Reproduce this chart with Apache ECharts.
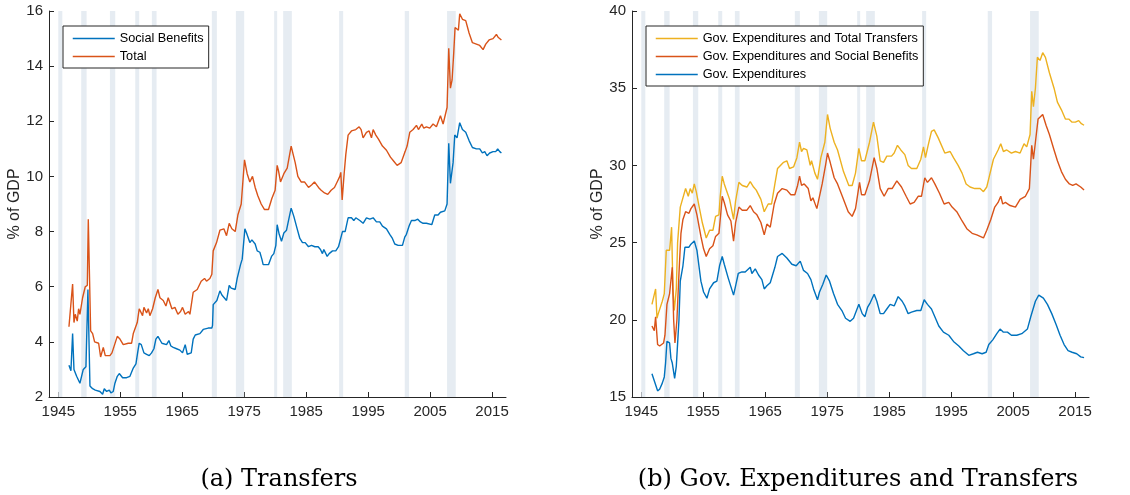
<!DOCTYPE html>
<html>
<head>
<meta charset="utf-8">
<script src="https://cdn.jsdelivr.net/npm/echarts@6/dist/echarts.min.js"></script>
<style>
  html, body { margin: 0; padding: 0; background: #fff; }
  #chart { width: 1130px; height: 495px; }
</style>
</head>
<body>
<div id="chart"></div>
<script>
// recession bands, [start, end] in decimal years
var recessions = [
    [1945.0, 1945.65], [1948.7, 1949.57], [1953.33, 1954.19], [1957.42, 1958.06],
    [1960.1, 1960.86], [1969.78, 1970.59], [1973.66, 1975.0], [1979.84, 1980.32],
    [1981.29, 1982.69], [1990.32, 1990.97], [2000.91, 2001.61], [2007.74, 2009.14]
];

var yearTicks = [1945, 1955, 1965, 1975, 1985, 1995, 2005, 2015];

// (a) Transfers, % of GDP
var socialBenefits = [
    [1946.72, 3.15], [1947.04, 2.95], [1947.31, 4.3], [1947.53, 3.0], [1947.96, 2.75], [1948.49, 2.5],
    [1948.66, 2.45], [1949.03, 3.0], [1949.46, 3.1], [1949.68, 3.15], [1949.78, 5.9], [1950.11, 2.4],
    [1950.54, 2.3], [1950.97, 2.25], [1951.72, 2.2], [1952.15, 2.1], [1952.42, 2.3], [1952.8, 2.2],
    [1953.23, 2.25], [1953.49, 2.15], [1953.87, 2.2], [1954.14, 2.5], [1954.52, 2.75], [1954.84, 2.85],
    [1955.38, 2.7], [1956.02, 2.7], [1956.56, 2.75], [1956.83, 2.75], [1957.1, 3.05], [1957.53, 3.2],
    [1957.8, 3.6], [1958.06, 3.95], [1958.39, 3.9], [1958.82, 3.6], [1959.25, 3.55], [1959.68, 3.5],
    [1960.05, 3.6], [1960.43, 3.75], [1960.75, 4.1], [1961.08, 4.2], [1961.29, 4.15], [1961.72, 3.95],
    [1962.04, 3.9], [1962.47, 3.9], [1962.85, 4.05], [1963.17, 3.85], [1963.55, 3.8], [1964.09, 3.75],
    [1964.62, 3.7], [1965.05, 3.6], [1965.27, 3.6], [1965.48, 3.9], [1965.81, 3.55], [1966.13, 3.5],
    [1966.45, 3.6], [1966.77, 4.1], [1967.1, 4.25], [1967.85, 4.3], [1968.39, 4.45], [1969.19, 4.5],
    [1969.78, 4.5], [1969.89, 4.6], [1970.0, 5.35], [1970.27, 5.4], [1970.59, 5.5], [1971.08, 5.85],
    [1971.4, 5.7], [1971.72, 5.75], [1972.15, 5.5], [1972.37, 5.55], [1972.58, 6.05], [1972.9, 5.95],
    [1973.55, 5.9], [1973.87, 6.3], [1974.41, 6.8], [1974.68, 7.0], [1975.11, 8.1], [1975.38, 7.95],
    [1975.91, 7.6], [1976.24, 7.7], [1976.77, 7.55], [1977.1, 7.3], [1977.53, 7.25], [1977.85, 7.0],
    [1978.06, 6.8], [1978.92, 6.8], [1979.41, 7.1], [1979.78, 7.2], [1980.11, 7.5], [1980.32, 8.25],
    [1980.65, 7.9], [1981.02, 7.65], [1981.4, 7.95], [1981.83, 8.05], [1982.15, 8.4], [1982.58, 8.85],
    [1983.01, 8.55], [1983.55, 8.1], [1983.98, 7.75], [1984.41, 7.6], [1984.84, 7.6], [1985.38, 7.45],
    [1985.86, 7.5], [1986.4, 7.45], [1986.94, 7.45], [1987.31, 7.35], [1987.63, 7.2], [1987.85, 7.35],
    [1988.39, 7.1], [1988.71, 7.2], [1989.25, 7.3], [1989.78, 7.3], [1990.22, 7.45], [1990.54, 7.5],
    [1990.86, 8.0], [1991.29, 8.0], [1991.77, 8.5], [1992.31, 8.5], [1992.69, 8.4], [1993.01, 8.5],
    [1993.66, 8.4], [1994.19, 8.3], [1994.73, 8.5], [1995.27, 8.45], [1995.81, 8.5], [1996.34, 8.35],
    [1996.88, 8.35], [1997.31, 8.2], [1997.96, 8.1], [1998.49, 7.9], [1998.92, 7.75], [1999.3, 7.55],
    [1999.84, 7.5], [2000.54, 7.5], [2000.91, 7.8], [2001.18, 7.9], [2001.61, 8.2], [2001.99, 8.4],
    [2002.53, 8.4], [2003.01, 8.45], [2003.44, 8.35], [2003.87, 8.3], [2004.41, 8.3], [2005.27, 8.25],
    [2005.75, 8.6], [2006.29, 8.6], [2006.67, 8.7], [2007.37, 8.75], [2007.74, 9.0], [2008.01, 11.2],
    [2008.28, 9.75], [2008.55, 9.8], [2008.71, 10.5], [2008.98, 11.5], [2009.35, 11.4], [2009.78, 11.95],
    [2010.22, 11.7], [2010.75, 11.6], [2011.29, 11.3], [2011.83, 11.05], [2012.47, 11.0], [2013.01, 11.0],
    [2013.44, 10.85], [2013.82, 10.9], [2014.19, 10.75], [2014.62, 10.85], [2015.16, 10.9], [2015.59, 10.9],
    [2015.91, 11.0], [2016.24, 10.9], [2016.51, 10.85]
];

var totalTransfers = [
    [1946.72, 4.55], [1946.99, 4.5], [1947.31, 6.1], [1947.53, 4.7], [1947.74, 5.0], [1948.06, 4.75],
    [1948.28, 5.2], [1948.49, 5.0], [1948.92, 5.6], [1949.35, 6.0], [1949.68, 6.05], [1949.84, 8.45],
    [1950.22, 4.4], [1950.54, 4.3], [1950.86, 4.0], [1951.51, 3.95], [1951.83, 3.45], [1952.26, 3.8],
    [1952.58, 3.5], [1953.33, 3.5], [1953.66, 3.6], [1954.09, 3.9], [1954.52, 4.2], [1954.95, 4.1],
    [1955.48, 3.9], [1956.29, 3.95], [1956.83, 3.95], [1957.1, 4.3], [1957.42, 4.3], [1957.74, 4.7],
    [1958.06, 5.2], [1958.28, 5.15], [1958.6, 4.95], [1958.82, 5.25], [1959.25, 5.05], [1959.52, 5.2],
    [1959.78, 4.95], [1960.22, 5.2], [1960.65, 5.6], [1961.08, 5.9], [1961.4, 5.6], [1961.94, 5.5],
    [1962.37, 5.3], [1962.74, 5.6], [1963.33, 5.2], [1963.82, 5.25], [1964.3, 5.0], [1964.73, 5.1],
    [1965.05, 5.25], [1965.48, 5.0], [1966.02, 5.1], [1966.24, 5.0], [1966.77, 5.8], [1967.42, 5.9],
    [1968.06, 6.2], [1968.6, 6.3], [1968.92, 6.2], [1969.46, 6.3], [1969.78, 6.45], [1970.0, 7.3],
    [1970.54, 7.6], [1971.08, 8.05], [1971.29, 8.0], [1971.72, 8.1], [1972.15, 7.85], [1972.58, 8.3],
    [1973.01, 8.1], [1973.55, 8.0], [1973.98, 8.6], [1974.52, 9.0], [1975.05, 10.6], [1975.48, 10.1],
    [1975.91, 9.8], [1976.34, 10.0], [1976.77, 9.6], [1977.2, 9.3], [1977.74, 9.0], [1978.28, 8.8],
    [1978.92, 8.8], [1979.46, 9.2], [1979.99, 9.5], [1980.32, 10.4], [1980.54, 10.2], [1980.86, 9.8],
    [1981.4, 10.1], [1981.94, 10.3], [1982.26, 10.7], [1982.58, 11.1], [1982.9, 10.8], [1983.23, 10.5],
    [1983.66, 10.0], [1984.19, 9.8], [1984.73, 9.8], [1985.38, 9.6], [1985.91, 9.7], [1986.34, 9.8],
    [1986.99, 9.6], [1987.42, 9.5], [1987.96, 9.4], [1988.49, 9.35], [1989.03, 9.5], [1989.57, 9.6],
    [1990.0, 9.8], [1990.43, 10.0], [1990.59, 10.15], [1990.81, 9.15], [1991.13, 10.1], [1991.4, 10.8],
    [1991.77, 11.5], [1992.31, 11.65], [1993.01, 11.7], [1993.55, 11.8], [1993.87, 11.7], [1994.19, 11.4],
    [1994.73, 11.6], [1995.16, 11.65], [1995.54, 11.4], [1995.81, 11.7], [1996.24, 11.5], [1996.67, 11.35],
    [1997.31, 11.1], [1997.96, 10.95], [1998.6, 10.7], [1999.14, 10.55], [1999.68, 10.4], [2000.0, 10.4],
    [2000.32, 10.5], [2000.97, 10.9], [2001.29, 11.1], [2001.72, 11.6], [2002.26, 11.7], [2002.8, 11.85],
    [2003.12, 11.7], [2003.66, 11.9], [2003.98, 11.75], [2004.41, 11.8], [2004.95, 11.75], [2005.48, 11.9],
    [2006.02, 11.8], [2006.67, 12.2], [2007.1, 11.9], [2007.42, 12.2], [2007.74, 12.5], [2008.01, 14.65],
    [2008.28, 13.2], [2008.55, 13.5], [2008.82, 14.5], [2009.03, 15.4], [2009.35, 15.4], [2009.57, 15.3],
    [2009.78, 15.9], [2010.22, 15.7], [2010.75, 15.65], [2011.29, 15.2], [2011.83, 14.85], [2012.47, 14.8],
    [2013.01, 14.75], [2013.55, 14.6], [2013.98, 14.8], [2014.52, 14.95], [2015.16, 15.0], [2015.7, 15.15],
    [2015.97, 15.05], [2016.51, 14.95]
];

// (b) Gov. expenditures and transfers, % of GDP
var govExpTotal = [
    [1946.72, 21.0], [1946.99, 20.9], [1947.31, 22.0], [1947.53, 20.1], [1947.74, 20.4], [1948.06, 20.5],
    [1948.39, 21.2], [1948.71, 21.7], [1949.03, 24.5], [1949.57, 24.5], [1949.89, 26.0], [1950.11, 22.0],
    [1950.32, 20.6], [1950.65, 22.0], [1950.86, 25.0], [1951.29, 27.3], [1951.51, 27.2], [1952.15, 28.5],
    [1952.58, 28.0], [1952.9, 28.5], [1953.23, 28.2], [1953.55, 28.8], [1953.87, 28.3], [1954.3, 27.4],
    [1954.84, 26.3], [1955.48, 25.3], [1956.02, 25.8], [1956.56, 25.8], [1956.99, 26.7], [1957.53, 26.8],
    [1957.74, 28.0], [1958.06, 29.3], [1958.39, 28.8], [1958.82, 28.3], [1959.25, 27.8], [1959.57, 27.7],
    [1959.89, 26.5], [1960.22, 27.7], [1960.75, 28.9], [1961.29, 28.7], [1962.04, 28.6], [1962.58, 28.95],
    [1963.12, 28.6], [1963.55, 28.4], [1964.3, 27.8], [1964.84, 27.0], [1965.48, 27.5], [1966.02, 27.5],
    [1966.56, 28.8], [1966.99, 29.8], [1967.96, 30.2], [1968.49, 30.3], [1968.92, 29.8], [1969.57, 29.9],
    [1970.11, 30.5], [1970.54, 31.5], [1970.86, 30.9], [1971.18, 31.1], [1971.72, 31.0], [1972.26, 30.0],
    [1972.47, 30.3], [1973.01, 29.5], [1973.44, 29.1], [1973.98, 30.5], [1974.62, 31.5], [1975.05, 33.3],
    [1975.48, 32.4], [1976.13, 31.5], [1976.67, 31.0], [1977.63, 29.6], [1978.49, 28.7], [1979.03, 28.7],
    [1979.57, 29.5], [1980.11, 31.1], [1980.54, 30.3], [1981.08, 30.3], [1981.83, 31.5], [1982.47, 32.8],
    [1983.01, 31.9], [1983.55, 30.3], [1984.09, 30.2], [1984.62, 30.6], [1985.38, 30.6], [1985.81, 30.8],
    [1986.34, 31.3], [1986.88, 31.0], [1987.53, 30.7], [1988.06, 30.0], [1988.6, 29.8], [1989.46, 29.8],
    [1990.11, 30.4], [1990.54, 31.2], [1990.86, 30.5], [1991.29, 31.3], [1991.83, 32.2], [1992.26, 32.3],
    [1992.9, 31.8], [1993.98, 30.8], [1994.84, 30.9], [1995.38, 30.5], [1996.13, 30.0], [1996.77, 29.5],
    [1997.42, 28.8], [1998.06, 28.6], [1998.82, 28.5], [1999.68, 28.5], [2000.22, 28.3], [2000.75, 28.6],
    [2001.29, 29.5], [2001.83, 30.4], [2002.58, 31.0], [2003.01, 31.4], [2003.44, 30.9], [2003.98, 31.0],
    [2004.73, 30.8], [2005.38, 30.9], [2006.13, 30.8], [2006.77, 31.4], [2007.2, 31.2], [2007.74, 32.0],
    [2008.01, 34.8], [2008.28, 33.8], [2008.6, 35.0], [2008.92, 37.0], [2009.35, 36.8], [2009.78, 37.3],
    [2010.22, 37.0], [2010.86, 36.0], [2011.61, 35.0], [2012.15, 34.1], [2012.8, 33.6], [2013.44, 33.0],
    [2013.98, 33.0], [2014.52, 32.8], [2015.05, 32.8], [2015.59, 32.9], [2016.02, 32.7], [2016.45, 32.6]
];

var govExpSocial = [
    [1946.72, 19.6], [1947.1, 19.3], [1947.31, 20.2], [1947.63, 18.4], [1947.96, 18.3], [1948.6, 18.5],
    [1948.82, 19.0], [1949.14, 21.0], [1949.57, 21.7], [1949.78, 21.8], [1950.0, 23.4], [1950.22, 20.0],
    [1950.43, 18.5], [1950.75, 20.0], [1951.08, 23.0], [1951.4, 25.6], [1951.72, 26.5], [1952.15, 27.0],
    [1952.69, 26.9], [1953.01, 27.2], [1953.55, 27.5], [1953.98, 26.8], [1954.62, 25.4], [1955.05, 24.6],
    [1955.48, 24.1], [1956.02, 24.6], [1956.56, 24.8], [1956.99, 25.4], [1957.53, 25.6], [1957.85, 27.0],
    [1958.06, 28.0], [1958.39, 27.6], [1958.92, 26.8], [1959.46, 26.4], [1959.89, 25.1], [1960.22, 26.3],
    [1960.75, 27.3], [1961.29, 27.1], [1962.04, 27.1], [1962.58, 27.4], [1963.12, 27.0], [1963.66, 26.8],
    [1964.3, 26.3], [1964.84, 25.5], [1965.27, 26.2], [1965.81, 26.0], [1966.45, 27.5], [1966.99, 28.2],
    [1967.74, 28.5], [1968.49, 28.4], [1969.14, 28.1], [1969.78, 28.1], [1970.22, 28.7], [1970.54, 29.3],
    [1970.86, 28.7], [1971.29, 28.8], [1971.94, 28.5], [1972.37, 27.7], [1972.69, 27.9], [1973.33, 27.2],
    [1973.55, 27.2], [1974.19, 28.8], [1974.73, 30.0], [1975.05, 30.8], [1975.48, 30.2], [1976.13, 29.2],
    [1976.67, 28.8], [1977.53, 27.9], [1978.39, 27.0], [1979.03, 26.7], [1979.57, 27.2], [1980.22, 28.9],
    [1980.54, 28.1], [1981.08, 28.1], [1981.83, 29.0], [1982.58, 30.5], [1983.01, 29.8], [1983.55, 28.5],
    [1984.19, 28.0], [1984.84, 28.5], [1985.48, 28.5], [1986.24, 29.0], [1986.99, 28.6], [1987.74, 28.0],
    [1988.39, 27.5], [1989.03, 27.6], [1989.68, 28.0], [1990.22, 28.0], [1990.75, 29.2], [1991.18, 28.9],
    [1991.83, 29.2], [1992.37, 28.8], [1993.12, 28.2], [1993.87, 27.5], [1994.62, 27.6], [1995.16, 27.3],
    [1995.91, 27.0], [1996.77, 26.4], [1997.53, 25.9], [1998.39, 25.6], [1999.14, 25.5], [2000.22, 25.3],
    [2000.75, 25.8], [2001.4, 26.5], [2002.04, 27.3], [2002.58, 27.6], [2003.01, 28.0], [2003.33, 27.5],
    [2003.76, 27.6], [2004.52, 27.4], [2005.38, 27.3], [2006.13, 27.8], [2006.99, 28.0], [2007.63, 28.5],
    [2008.01, 31.3], [2008.28, 30.4], [2008.6, 31.5], [2009.03, 33.0], [2009.35, 32.9], [2009.78, 33.3],
    [2010.32, 32.6], [2010.86, 32.0], [2011.61, 31.0], [2012.15, 30.3], [2012.8, 29.6], [2013.44, 29.1],
    [2014.09, 28.8], [2014.62, 28.7], [2015.16, 28.8], [2015.91, 28.6], [2016.45, 28.4]
];

var govExp = [
    [1946.72, 16.5], [1946.99, 16.4], [1947.63, 15.4], [1947.96, 15.5], [1948.39, 15.9], [1948.71, 16.3],
    [1948.92, 17.2], [1949.14, 18.6], [1949.57, 18.5], [1949.78, 17.5], [1950.0, 17.2], [1950.38, 16.2],
    [1950.65, 17.0], [1951.08, 20.0], [1951.29, 22.5], [1951.72, 23.5], [1952.04, 24.7], [1952.69, 24.7],
    [1953.01, 24.9], [1953.55, 25.1], [1953.98, 24.5], [1954.62, 22.5], [1955.05, 21.8], [1955.59, 21.4],
    [1956.02, 22.0], [1956.67, 22.4], [1957.2, 22.5], [1957.63, 23.5], [1958.06, 24.1], [1958.39, 23.6],
    [1959.03, 22.7], [1959.35, 22.8], [1959.89, 21.6], [1960.22, 22.2], [1960.65, 23.0], [1961.24, 23.1],
    [1961.77, 23.1], [1962.58, 23.4], [1962.85, 23.0], [1963.39, 23.3], [1963.92, 22.9], [1964.46, 22.6],
    [1964.84, 22.0], [1965.27, 22.2], [1965.81, 22.4], [1966.56, 23.4], [1966.99, 24.1], [1967.74, 24.3],
    [1968.49, 24.0], [1969.3, 23.6], [1970.0, 23.5], [1970.65, 23.8], [1971.18, 23.2], [1971.83, 23.0],
    [1972.37, 22.6], [1972.8, 22.0], [1973.44, 21.3], [1973.76, 21.8], [1974.3, 22.3], [1974.84, 22.9],
    [1975.38, 22.5], [1976.02, 21.7], [1976.67, 21.0], [1977.37, 20.6], [1977.96, 20.1], [1978.71, 19.9],
    [1979.25, 20.1], [1980.11, 21.0], [1980.65, 20.4], [1981.08, 20.2], [1981.51, 20.8], [1981.94, 21.1],
    [1982.58, 21.65], [1983.01, 21.2], [1983.55, 20.4], [1984.09, 20.4], [1984.62, 20.7], [1985.16, 21.0],
    [1985.81, 20.9], [1986.45, 21.5], [1987.1, 21.2], [1987.53, 20.9], [1988.06, 20.4], [1988.6, 20.5],
    [1989.46, 20.6], [1990.11, 20.6], [1990.65, 21.3], [1991.18, 21.0], [1991.83, 20.7], [1992.37, 20.2],
    [1993.01, 19.6], [1993.76, 19.2], [1994.62, 19.0], [1995.38, 18.6], [1996.24, 18.3], [1996.99, 18.0],
    [1997.85, 17.7], [1998.6, 17.8], [1999.25, 17.9], [2000.0, 17.8], [2000.65, 17.9], [2001.08, 18.4],
    [2001.72, 18.7], [2002.37, 19.1], [2002.9, 19.4], [2003.44, 19.2], [2004.09, 19.2], [2004.73, 19.0],
    [2005.59, 19.0], [2006.4, 19.1], [2007.31, 19.4], [2007.85, 20.2], [2008.6, 21.2], [2009.14, 21.6],
    [2009.89, 21.4], [2010.54, 21.0], [2011.24, 20.4], [2011.94, 19.7], [2012.58, 19.0], [2013.23, 18.4],
    [2013.87, 18.0], [2014.52, 17.9], [2015.27, 17.8], [2015.91, 17.6], [2016.45, 17.55]
];

var BLUE = '#0072BD', ORANGE = '#D95319', YELLOW = '#EDB120', SHADE = '#e6ecf2', AXIS = '#262626';
var FONT = 'Liberation Sans, Arial, Helvetica, sans-serif';
var SERIF = '24px "DejaVu Serif", serif';

function xAxisFor(i) {
    return {
        type: 'value', gridIndex: i, min: 1943.5, max: 2017.25,
        splitLine: { show: false },
        axisLine: { lineStyle: { color: AXIS, width: 1 } },
        axisTick: { inside: true, length: 5, customValues: yearTicks, lineStyle: { color: AXIS } },
        axisLabel: {
            customValues: yearTicks, color: AXIS, fontSize: 15, fontFamily: FONT, margin: 7,
            formatter: function (v) { return String(v); }
        }
    };
}

function yAxisFor(i, min, max, step) {
    return {
        type: 'value', gridIndex: i, min: min, max: max, interval: step,
        name: '% of GDP', nameLocation: 'middle', nameGap: 25,
        nameTextStyle: { color: AXIS, fontSize: 16, fontFamily: FONT },
        splitLine: { show: false },
        axisLine: { show: true, lineStyle: { color: AXIS, width: 1 } },
        axisTick: { show: true, inside: true, length: 5, lineStyle: { color: AXIS } },
        axisLabel: { color: AXIS, fontSize: 15, fontFamily: FONT, margin: 6 }
    };
}

function shadeSeries(i, ymin, ymax) {
    return {
        type: 'custom', xAxisIndex: i, yAxisIndex: i, z: 1, silent: true,
        encode: { x: [0, 1] },
        data: recessions,
        renderItem: function (params, api) {
            var p0 = api.coord([api.value(0), ymax]);
            var p1 = api.coord([api.value(1), ymin]);
            return {
                type: 'rect',
                shape: { x: p0[0], y: p0[1], width: p1[0] - p0[0], height: p1[1] - p0[1] },
                style: { fill: SHADE }
            };
        }
    };
}

function lineSeries(name, i, data, color) {
    return {
        name: name, type: 'line', xAxisIndex: i, yAxisIndex: i, z: 3,
        data: data, symbol: 'none', showSymbol: false, animation: false,
        lineStyle: { color: color, width: 1.4 }, itemStyle: { color: color }
    };
}

var legendBase = {
    orient: 'vertical', itemWidth: 42, itemHeight: 14, itemGap: 5,
    borderColor: AXIS, borderWidth: 1, backgroundColor: '#fff', borderRadius: 0,
    padding: [6, 5, 5, 9],
    itemStyle: { opacity: 0 },
    lineStyle: { width: 1.5 },
    textStyle: { color: '#000', fontSize: 12.7, fontFamily: FONT }
};

var chart = echarts.init(document.getElementById('chart'));
chart.setOption({
    animation: false,
    grid: [
        { left: 49, top: 11, width: 457, height: 386 },
        { left: 632, top: 11, width: 457, height: 386 }
    ],
    xAxis: [xAxisFor(0), xAxisFor(1)],
    yAxis: [yAxisFor(0, 2, 16, 2), yAxisFor(1, 15, 40, 5)],
    legend: [
        Object.assign({}, legendBase, { left: 63, top: 26, data: ['Social Benefits', 'Total'] }),
        Object.assign({}, legendBase, { left: 646, top: 26,
            data: ['Gov. Expenditures and Total Transfers', 'Gov. Expenditures and Social Benefits', 'Gov. Expenditures'] })
    ],
    graphic: [
        { type: 'text', style: { x: 279, y: 480, text: '(a) Transfers', fill: '#000', font: SERIF, textAlign: 'center', textVerticalAlign: 'middle' } },
        { type: 'text', style: { x: 858, y: 480, text: '(b) Gov. Expenditures and Transfers', fill: '#000', font: SERIF, textAlign: 'center', textVerticalAlign: 'middle' } }
    ],
    series: [
        shadeSeries(0, 2, 16),
        lineSeries('Social Benefits', 0, socialBenefits, BLUE),
        lineSeries('Total', 0, totalTransfers, ORANGE),
        shadeSeries(1, 15, 40),
        lineSeries('Gov. Expenditures and Total Transfers', 1, govExpTotal, YELLOW),
        lineSeries('Gov. Expenditures and Social Benefits', 1, govExpSocial, ORANGE),
        lineSeries('Gov. Expenditures', 1, govExp, BLUE)
    ]
});
</script>
</body>
</html>
